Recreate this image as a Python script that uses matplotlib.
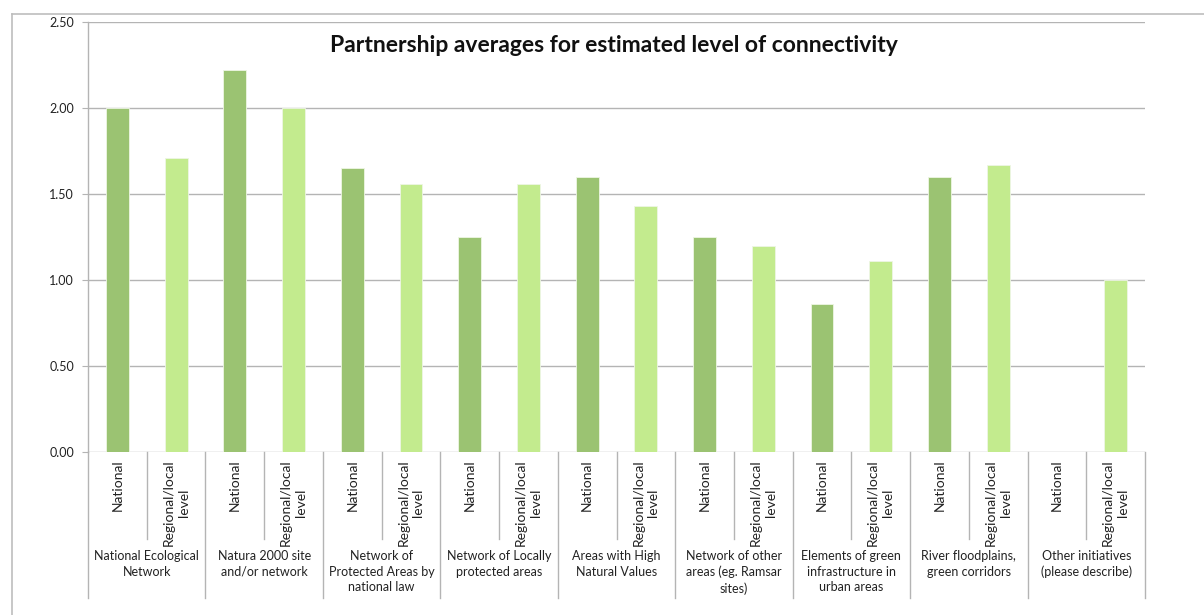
import matplotlib
matplotlib.use("Agg")
import matplotlib.pyplot as plt
from matplotlib.lines import Line2D
import numpy as np

plt.rcParams["font.family"] = ["Lato", "DejaVu Sans"]

groups = [
    "National Ecological\nNetwork",
    "Natura 2000 site\nand/or network",
    "Network of\nProtected Areas by\nnational law",
    "Network of Locally\nprotected areas",
    "Areas with High\nNatural Values",
    "Network of other\nareas (eg. Ramsar\nsites)",
    "Elements of green\ninfrastructure in\nurban areas",
    "River floodplains,\ngreen corridors",
    "Other initiatives\n(please describe)",
]
levels = ["National", "Regional/local\nlevel"]
national = [2.00, 2.22, 1.65, 1.25, 1.60, 1.25, 0.86, 1.60, 0.00]
regional = [1.71, 2.00, 1.56, 1.56, 1.43, 1.20, 1.11, 1.67, 1.00]
yticks = [0.0, 0.5, 1.0, 1.5, 2.0, 2.5]

COL_NAT = "#9bc372"
COL_REG = "#c3eb8e"
GRID = "#b4b4b4"

fig = plt.figure(figsize=(12.04, 6.15), dpi=100)
ax = fig.add_axes([88 / 1204, 163 / 615, (1145 - 88) / 1204, 430 / 615])

n = len(groups)
values = []
colors = []
for nat, reg in zip(national, regional):
    values += [nat, reg]
    colors += [COL_NAT, COL_REG]
x = np.arange(2 * n)
ax.bar(x, values, width=0.39, color=colors, edgecolor="#eef6e4", linewidth=0.6, zorder=3)

ax.set_xlim(-0.5, 2 * n - 0.5)
ax.set_ylim(0, 2.5)
ax.set_yticks(yticks)
ax.set_yticklabels([f"{v:.2f}" for v in yticks], fontsize=9, color="#222222")
ax.yaxis.grid(True, color=GRID, linewidth=1.0, zorder=0)
ax.tick_params(axis="y", length=4, color=GRID, pad=6)
ax.set_xticks([])
for side in ["top", "right", "bottom"]:
    ax.spines[side].set_visible(False)
ax.spines["left"].set_color(GRID)
ax.spines["left"].set_linewidth(1.0)

trans = ax.get_xaxis_transform()
# group dividers run down through the category area
for b in np.arange(0, 2 * n + 1, 2) - 0.5:
    ax.plot([b, b], [0, -0.34], transform=trans, color=GRID, lw=1.0, clip_on=False)
for b in np.arange(1, 2 * n, 2) - 0.5:
    ax.plot([b, b], [0, -0.202], transform=trans, color=GRID, lw=1.0, clip_on=False)

for i in range(2 * n):
    ax.text(i, -0.018, levels[i % 2], transform=trans, rotation=90, ha="center", va="top",
            multialignment="center", fontsize=10, color="#222222", linespacing=1.3)
for g, name in enumerate(groups):
    ax.text(2 * g + 0.5, -0.228, name, transform=trans, ha="center", va="top",
            multialignment="center", fontsize=9, color="#222222", linespacing=1.35)

fig.text(614 / 1204, 1 - 46 / 615, "Partnership averages for estimated level of connectivity",
         ha="center", va="center", fontsize=16.5, fontweight="bold", color="#111111")

# outer chart frame
fig.add_artist(Line2D([12 / 1204, 1.0], [1 - 14 / 615] * 2, color="#bdbdbd", lw=1.2))
fig.add_artist(Line2D([12 / 1204] * 2, [0, 1 - 14 / 615], color="#bdbdbd", lw=1.2))

fig.savefig("out.png", dpi=100, facecolor="white")
